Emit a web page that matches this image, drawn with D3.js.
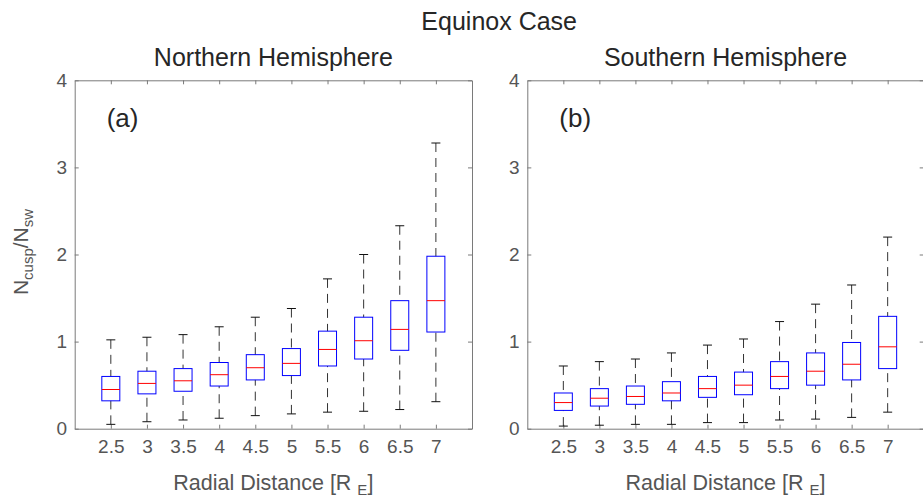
<!DOCTYPE html>
<html>
<head>
<meta charset="utf-8">
<script src="https://cdn.jsdelivr.net/npm/d3@7"></script>
<style>
  body { margin: 0; background: #fff; }
  text { font-family: "Liberation Sans", Arial, Helvetica, sans-serif; }
</style>
</head>
<body>
<svg id="chart"></svg>
<script>
// radial distance bins (R_E)
var distances = ["2.5", "3", "3.5", "4", "4.5", "5", "5.5", "6", "6.5", "7"];
var yTicks = [0, 1, 2, 3, 4];

// Northern hemisphere box statistics
var northHi  = [1.02, 1.05, 1.08, 1.17, 1.28, 1.38, 1.72, 2.00, 2.33, 3.28];
var northQ3  = [0.60, 0.66, 0.69, 0.76, 0.85, 0.92, 1.12, 1.28, 1.47, 1.98];
var northMed = [0.45, 0.52, 0.55, 0.62, 0.70, 0.75, 0.91, 1.01, 1.14, 1.47];
var northQ1  = [0.32, 0.40, 0.43, 0.49, 0.56, 0.61, 0.72, 0.80, 0.90, 1.11];
var northLo  = [0.05, 0.08, 0.10, 0.12, 0.15, 0.17, 0.19, 0.20, 0.22, 0.31];

// Southern hemisphere box statistics
var southHi  = [0.72, 0.77, 0.80, 0.87, 0.96, 1.03, 1.23, 1.43, 1.65, 2.20];
var southQ3  = [0.41, 0.46, 0.49, 0.54, 0.60, 0.65, 0.77, 0.87, 0.99, 1.29];
var southMed = [0.30, 0.35, 0.37, 0.41, 0.46, 0.50, 0.60, 0.66, 0.74, 0.94];
var southQ1  = [0.21, 0.26, 0.28, 0.32, 0.36, 0.39, 0.46, 0.50, 0.56, 0.69];
var southLo  = [0.03, 0.04, 0.05, 0.05, 0.07, 0.07, 0.10, 0.11, 0.13, 0.19];

(function() {
    var width = 923, height = 497;
    var plotTop = 80.3, plotBottom = 428.7;

    var svg = d3.select("#chart")
        .attr("width", width)
        .attr("height", height);

    var y = d3.scaleLinear().domain([0, 4]).range([plotBottom, plotTop]);

    function rows(hi, q3, med, q1, lo) {
        return distances.map(function(d, i) {
            return {key: d, hi: hi[i], q3: q3[i], med: med[i], q1: q1[i], lo: lo[i]};
        });
    }

    var panels = [
        {left: 74.7, right: 472, title: "Northern Hemisphere", tag: "(a)", ylabel: true,
         data: rows(northHi, northQ3, northMed, northQ1, northLo)},
        {left: 527.3, right: 923.7, title: "Southern Hemisphere", tag: "(b)", ylabel: false,
         data: rows(southHi, southQ3, southMed, southQ1, southLo)}
    ];

    var axisGray = "#7a7a7a", textGray = "#555";

    svg.append("text")
        .attr("x", (panels[0].left + panels[1].right) / 2)
        .attr("y", 30)
        .attr("text-anchor", "middle")
        .style("font-size", "25px")
        .style("fill", "#262626")
        .text("Equinox Case");

    panels.forEach(function(p) {
        var x = d3.scalePoint().domain(distances).range([p.left, p.right]).padding(1);
        var g = svg.append("g");

        // axes (ticks pointing inward, box all round)
        g.append("g").attr("transform", "translate(0," + plotBottom + ")")
            .call(d3.axisBottom(x).tickSizeInner(-4).tickSizeOuter(0).tickPadding(10.6));
        g.append("g").attr("transform", "translate(0," + plotTop + ")")
            .call(d3.axisTop(x).tickSizeInner(-4).tickSizeOuter(0).tickFormat(""));
        g.append("g").attr("transform", "translate(" + p.left + ",0)")
            .call(d3.axisLeft(y).tickValues(yTicks).tickFormat(d3.format("d"))
                .tickSizeInner(-4).tickSizeOuter(0).tickPadding(7.7));
        g.append("g").attr("transform", "translate(" + p.right + ",0)")
            .call(d3.axisRight(y).tickValues(yTicks).tickSizeInner(-4).tickSizeOuter(0).tickFormat(""));

        g.selectAll(".domain, .tick line").attr("stroke", axisGray);
        g.selectAll(".tick text")
            .style("font-size", "19px")
            .style("font-family", "'Liberation Sans', Arial, sans-serif")
            .attr("fill", textGray);

        // box plots
        var bw = 18, cw = 9;
        var box = g.selectAll(".box").data(p.data).enter().append("g").attr("class", "box");

        box.append("line")
            .attr("x1", function(d) { return x(d.key); })
            .attr("x2", function(d) { return x(d.key); })
            .attr("y1", function(d) { return y(d.hi); })
            .attr("y2", function(d) { return y(d.q3); })
            .attr("stroke", "#333").attr("stroke-dasharray", "9,6");
        box.append("line")
            .attr("x1", function(d) { return x(d.key); })
            .attr("x2", function(d) { return x(d.key); })
            .attr("y1", function(d) { return y(d.lo); })
            .attr("y2", function(d) { return y(d.q1); })
            .attr("stroke", "#333").attr("stroke-dasharray", "9,6");
        ["hi", "lo"].forEach(function(k) {
            box.append("line")
                .attr("x1", function(d) { return x(d.key) - cw / 2; })
                .attr("x2", function(d) { return x(d.key) + cw / 2; })
                .attr("y1", function(d) { return y(d[k]); })
                .attr("y2", function(d) { return y(d[k]); })
                .attr("stroke", "#111");
        });
        box.append("rect")
            .attr("x", function(d) { return x(d.key) - bw / 2; })
            .attr("width", bw)
            .attr("y", function(d) { return y(d.q3); })
            .attr("height", function(d) { return y(d.q1) - y(d.q3); })
            .attr("fill", "none")
            .attr("stroke", "#0000ff");
        box.append("line")
            .attr("x1", function(d) { return x(d.key) - bw / 2; })
            .attr("x2", function(d) { return x(d.key) + bw / 2; })
            .attr("y1", function(d) { return y(d.med); })
            .attr("y2", function(d) { return y(d.med); })
            .attr("stroke", "#ff0000");

        // titles and labels
        var cx = (p.left + p.right) / 2;
        svg.append("text")
            .attr("x", cx).attr("y", 65.7)
            .attr("text-anchor", "middle")
            .style("font-size", "25px")
            .style("fill", "#262626")
            .text(p.title);

        svg.append("text")
            .attr("x", p.left + 32).attr("y", 127)
            .style("font-size", "26px")
            .style("fill", "#262626")
            .text(p.tag);

        var xl = svg.append("text")
            .attr("x", cx).attr("y", 490)
            .attr("text-anchor", "middle")
            .style("font-size", "21.5px")
            .style("fill", textGray);
        xl.append("tspan").text("Radial Distance [R ");
        xl.append("tspan").attr("dy", 5).style("font-size", "15px").text("E");
        xl.append("tspan").attr("dy", -5).text("]");

        if (p.ylabel) {
            var yl = svg.append("text")
                .attr("transform", "translate(28,252) rotate(-90)")
                .attr("text-anchor", "middle")
                .style("font-size", "21px")
                .style("fill", textGray);
            yl.append("tspan").text("N");
            yl.append("tspan").attr("dy", 5).style("font-size", "15px").text("cusp");
            yl.append("tspan").attr("dy", -5).text("/N");
            yl.append("tspan").attr("dy", 5).style("font-size", "15px").text("sw");
        }
    });
})();
</script>
</body>
</html>
